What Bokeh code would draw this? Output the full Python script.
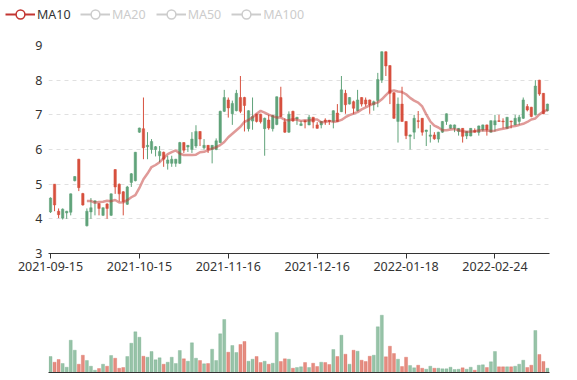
from bokeh.plotting import figure
from bokeh.models import Range1d, FixedTicker, Legend, LegendItem, ColumnDataSource
from bokeh.layouts import column
from bokeh.embed import file_html
from bokeh.resources import INLINE

# ---- data ----
tick_labels = ["2021-09-15", "2021-10-15", "2021-11-16", "2021-12-16", "2022-01-18", "2022-02-24"]
tick_index = [0, 22, 44, 66, 88, 110]

opens = [4.6, 4.4, 4.12, 4.28, 4.22, 4.72, 5.22, 4.9, 4.4, 4.22,
         4.32, 4.52, 4.3, 4.32, 4.3, 4.72, 4.92, 4.72, 4.5, 4.92,
         5.3, 5.92, 6.62, 6.05, 6.12, 6.23, 6.08, 5.94, 5.72, 5.7,
         5.72, 5.72, 6.2, 5.98, 6.12, 6.3, 6.52, 6.3, 6.12, 6.0,
         6.12, 6.25, 7.1, 7.5, 7.2, 7.33, 7.62, 7.1, 7.27, 7.12,
         6.95, 6.81, 6.8, 6.9, 6.62, 6.98, 7.52, 6.95, 6.5, 7.02,
         6.82, 6.93, 6.74, 6.79, 6.93, 6.79, 6.61, 6.81, 6.81, 6.81,
         7.12, 6.81, 7.72, 7.29, 7.5, 7.19, 7.43, 7.31, 7.31, 7.29,
         7.38, 8.02, 8.82, 8.41, 7.62, 6.9, 7.31, 6.81, 6.4, 6.42,
         6.9, 6.81, 6.5, 6.56, 6.42, 6.31, 6.5, 6.81, 7.03, 6.71,
         6.71, 6.61, 6.38, 6.52, 6.61, 6.5, 6.68, 6.71, 6.57, 6.83,
         6.83, 6.81, 6.8, 6.93, 6.8, 6.9, 6.93, 7.43, 7.14, 6.95,
         7.83, 7.6, 7.03, 7.31]
highs = [4.62, 5.0, 4.3, 4.3, 4.23, 4.73, 5.23, 5.73, 4.75, 4.3,
         4.6, 4.53, 4.45, 4.33, 4.45, 4.73, 5.43, 5.02, 4.8, 4.95,
         5.32, 5.93, 6.63, 7.5, 6.5, 6.3, 6.1, 6.1, 5.94, 5.82,
         5.82, 5.73, 6.22, 6.21, 6.13, 6.5, 6.7, 6.53, 6.3, 6.13,
         6.13, 6.32, 7.12, 7.72, 7.5, 7.41, 7.72, 8.12, 7.52, 7.13,
         7.5, 7.03, 7.03, 6.92, 7.0, 7.0, 7.53, 7.81, 6.9, 7.1,
         7.12, 6.94, 6.83, 6.84, 7.0, 6.94, 6.79, 6.82, 6.9, 6.85,
         7.13, 7.31, 8.12, 7.72, 7.51, 7.41, 7.72, 7.51, 7.5, 7.44,
         7.41, 8.21, 8.83, 8.83, 8.43, 7.65, 7.5, 7.81, 6.82, 6.43,
         7.0, 7.11, 6.91, 6.57, 6.71, 6.5, 6.51, 6.82, 7.04, 6.72,
         6.72, 6.62, 6.62, 6.53, 6.62, 6.61, 6.69, 6.72, 6.72, 6.84,
         7.0, 7.0, 6.9, 6.94, 6.83, 7.0, 7.0, 7.5, 7.31, 7.23,
         8.0, 8.01, 7.63, 7.32]
lows = [4.17, 4.22, 4.02, 3.98, 4.0, 4.1, 5.08, 4.8, 4.38, 3.78,
        4.0, 4.1, 4.1, 4.08, 4.0, 4.08, 4.72, 4.5, 4.1, 4.4,
        4.92, 5.08, 6.48, 5.72, 5.72, 5.88, 5.8, 5.63, 5.5, 5.42,
        5.5, 5.5, 5.58, 5.9, 5.93, 5.9, 6.04, 6.1, 6.0, 5.9,
        5.6, 5.98, 6.18, 7.08, 6.92, 6.71, 7.1, 7.05, 6.52, 6.52,
        6.57, 6.78, 6.75, 5.82, 6.57, 6.52, 6.7, 6.93, 6.48, 6.48,
        6.8, 6.71, 6.68, 6.61, 6.7, 6.61, 6.6, 6.61, 6.71, 6.71,
        6.61, 6.8, 7.08, 7.03, 7.3, 7.03, 7.1, 7.24, 7.24, 7.03,
        7.12, 7.22, 7.92, 8.12, 7.31, 6.88, 6.2, 6.8, 6.3, 6.0,
        6.3, 6.61, 6.4, 6.1, 6.2, 6.28, 6.2, 6.48, 6.71, 6.6,
        6.5, 6.4, 6.2, 6.3, 6.38, 6.49, 6.4, 6.52, 6.4, 6.49,
        6.52, 6.8, 6.61, 6.6, 6.61, 6.7, 6.71, 6.88, 7.1, 6.93,
        6.98, 7.55, 7.02, 7.1]
closes = [4.2, 5.0, 4.22, 4.02, 4.17, 4.19, 5.1, 5.72, 4.73, 3.8,
          4.2, 4.48, 4.44, 4.1, 4.43, 4.1, 5.42, 5.0, 4.78, 4.42,
          5.05, 5.1, 6.5, 6.6, 6.08, 6.0, 6.0, 5.82, 5.92, 5.6,
          5.6, 5.6, 5.6, 6.2, 6.07, 6.0, 6.1, 6.52, 6.05, 6.12,
          6.0, 6.0, 6.2, 7.1, 7.43, 7.03, 7.12, 7.5, 7.5, 6.6,
          6.82, 7.02, 7.02, 6.6, 6.85, 6.6, 6.72, 7.5, 6.8, 6.5,
          7.1, 6.88, 6.69, 6.83, 6.71, 6.93, 6.71, 6.71, 6.85, 6.84,
          6.81, 7.05, 7.09, 7.62, 7.31, 7.38, 7.12, 7.5, 7.43, 7.43,
          7.29, 7.41, 8.0, 8.82, 8.42, 7.64, 6.81, 7.31, 6.81, 6.38,
          6.5, 6.83, 6.9, 6.52, 6.38, 6.42, 6.3, 6.5, 6.81, 6.61,
          6.61, 6.52, 6.61, 6.39, 6.39, 6.55, 6.49, 6.57, 6.71, 6.5,
          6.71, 6.83, 6.82, 6.61, 6.82, 6.71, 6.81, 6.9, 7.24, 7.22,
          7.0, 8.0, 7.62, 7.12]
volumes = [160, 103, 130, 90, 53, 323, 223, 83, 173, 120,
           63, 23, 40, 83, 63, 170, 143, 43, 50, 160,
           293, 407, 353, 163, 153, 210, 127, 147, 83, 103,
           153, 90, 220, 137, 113, 297, 143, 120, 87, 90,
           233, 120, 387, 530, 203, 270, 200, 280, 310, 113,
           133, 160, 100, 113, 83, 93, 400, 110, 137, 133,
           43, 50, 57, 100, 50, 93, 60, 103, 100, 80,
           230, 160, 373, 183, 83, 223, 213, 123, 110, 163,
           173, 457, 573, 157, 263, 190, 133, 60, 153, 70,
           47, 73, 43, 33, 63, 43, 43, 37, 37, 53,
           30, 33, 47, 33, 53, 23, 73, 77, 50, 107,
           210, 57, 57, 57, 57, 63, 83, 123, 50, 73,
           420, 180, 110, 43]

UP = "#d7503e"
DOWN = "#60a37a"
MA_COLOR = "#c23531"
FONT = "Noto Sans"
W = 577

n = len(closes)
xs = list(range(n))
colors = [UP if c > o else DOWN for o, c in zip(opens, closes)]
src = ColumnDataSource(dict(
    x=xs, o=opens, h=highs, l=lows, c=closes, v=volumes, color=colors,
    top=[max(o, c) for o, c in zip(opens, closes)],
    bottom=[min(o, c) for o, c in zip(opens, closes)],
))

ma_x, ma_y = [], []
for i in range(9, n):
    ma_x.append(i)
    ma_y.append(sum(closes[i - 9:i + 1]) / 10.0)

# ---- legend strip ----
p0 = figure(width=W, height=30, output_backend="svg", toolbar_location=None,
            x_range=Range1d(0, 1), y_range=Range1d(0, 1),
            x_axis_location=None, y_axis_location=None,
            min_border_left=0, min_border_right=0, min_border_top=0, min_border_bottom=0)
p0.frame_align = False
p0.outline_line_color = None
p0.grid.visible = False

# one point off-screen so the legend icons get drawn
off = dict(x=[5], y=[5])
r_line = p0.line("x", "y", source=ColumnDataSource(off), line_color=MA_COLOR, line_width=2)
r_dot = p0.scatter("x", "y", source=ColumnDataSource(off), marker="circle",
                   fill_color="white", line_color=MA_COLOR, line_width=1.5)
grey_items = []
for name in ["MA20", "MA50", "MA100"]:
    gl = p0.line("x", "y", source=ColumnDataSource(off), line_color="#cccccc", line_width=2)
    gd = p0.scatter("x", "y", source=ColumnDataSource(off), marker="circle",
                    fill_color="white", line_color="#cccccc", line_width=1.5)
    grey_items.append(LegendItem(label=name, renderers=[gl, gd]))


def make_legend(items, loc, color):
    return Legend(items=items, location=loc, orientation="horizontal",
                  glyph_width=30, glyph_height=22, label_standoff=2, spacing=10,
                  padding=0, margin=0, border_line_color=None, background_fill_alpha=0,
                  label_text_font=FONT, label_text_font_size="12.5px",
                  label_text_color=color)


p0.add_layout(make_legend([LegendItem(label="MA10", renderers=[r_line, r_dot])], (5, 5), "#333333"))
p0.add_layout(make_legend(grey_items, (80, 5), "#cccccc"))

# ---- candle chart ----
p = figure(width=W, height=258, output_backend="svg", toolbar_location=None,
           x_range=Range1d(-0.5, n - 0.5), y_range=Range1d(3, 9),
           min_border_left=48, min_border_right=28, min_border_top=15, min_border_bottom=35)
p.outline_line_color = None
p.xgrid.visible = False
p.ygrid.grid_line_color = "#e0e0e0"
p.ygrid.grid_line_dash = "4 4"
p.yaxis.ticker = FixedTicker(ticks=[3, 4, 5, 6, 7, 8, 9])
p.yaxis.axis_line_color = None
p.yaxis.major_tick_line_color = None
p.yaxis.major_tick_out = 0
p.yaxis.major_tick_in = 0
p.yaxis.minor_tick_line_color = None
p.yaxis.major_label_standoff = 6
p.yaxis.major_label_text_color = "#333333"
p.yaxis.major_label_text_font = FONT
p.yaxis.major_label_text_font_size = "12.5px"

p.xaxis.ticker = FixedTicker(ticks=tick_index)
p.xaxis.major_label_overrides = {t: lab for t, lab in zip(tick_index, tick_labels)}
p.xaxis.axis_line_color = "#333333"
p.xaxis.major_tick_line_color = "#333333"
p.xaxis.major_tick_out = 5
p.xaxis.major_tick_in = 0
p.xaxis.minor_tick_line_color = None
p.xaxis.major_label_standoff = 3
p.xaxis.major_label_text_color = "#333333"
p.xaxis.major_label_text_font = FONT
p.xaxis.major_label_text_font_size = "12.5px"

p.segment(x0="x", y0="l", x1="x", y1="h", color="color", line_width=1, source=src)
p.vbar(x="x", top="top", bottom="bottom", width=0.6, fill_color="color",
       line_color="color", line_width=0.5, source=src)
p.line(ma_x, ma_y, line_color=MA_COLOR, line_alpha=0.5, line_width=2.5)

# ---- volume chart ----
p2 = figure(width=W, height=89, output_backend="svg", toolbar_location=None,
            x_range=p.x_range, y_range=Range1d(0, 720),
            min_border_left=48, min_border_right=28, min_border_top=12, min_border_bottom=5)
p2.outline_line_color = None
p2.grid.visible = False
p2.yaxis.visible = False
p2.xaxis.ticker = FixedTicker(ticks=[])
p2.xaxis.axis_line_color = "#333333"
p2.xaxis.major_tick_line_color = None
p2.xaxis.minor_tick_line_color = None
p2.xaxis.major_label_standoff = 0
p2.vbar(x="x", top="v", bottom=0, width=0.75, fill_color="color", fill_alpha=0.65,
        line_color="color", line_alpha=0.25, line_width=1, source=src)

layout = column(p0, p, p2, spacing=0)
open("out.html", "w").write(file_html(layout, INLINE))
